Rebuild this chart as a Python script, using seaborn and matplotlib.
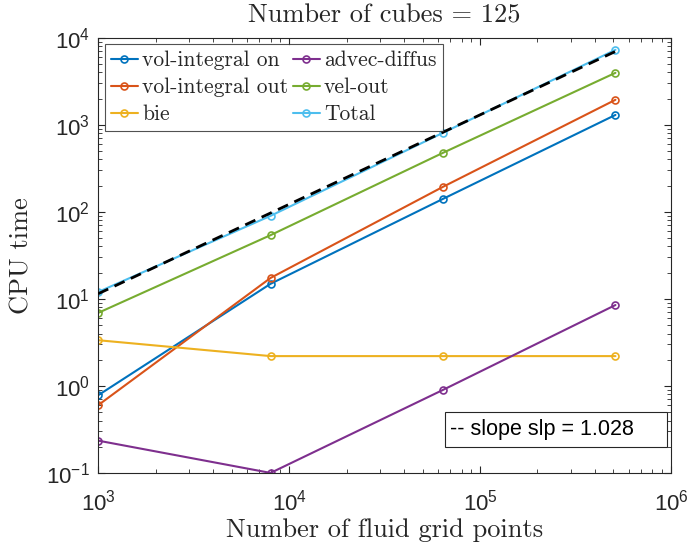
import numpy as np
import pandas as pd
import matplotlib
matplotlib.use("Agg")
import matplotlib.pyplot as plt
import seaborn as sns
from matplotlib.patches import Rectangle
from matplotlib.ticker import LogLocator, NullFormatter

# Fluid grid sizes (10^3, 20^3, 40^3, 80^3)
grid_points = [1000, 8000, 64000, 512000]

# CPU time per stage
vol_integral_on = [0.78, 14.9, 141, 1300]
vol_integral_out = [0.60, 17.4, 194, 1940]
bie = [3.35, 2.2, 2.2, 2.2]
advec_diffus = [0.235, 0.10, 0.90, 8.5]
vel_out = [6.9, 54, 477, 3960]
total = [12.0, 90, 810, 7280]

series_names = ["vol-integral on", "vol-integral out", "bie",
                "advec-diffus", "vel-out", "Total"]
series_values = [vol_integral_on, vol_integral_out, bie,
                 advec_diffus, vel_out, total]
colors = ["#0072BD", "#D95319", "#EDB120", "#7E2F8E", "#77AC30", "#4DBEEE"]

slope = 1.028
title_text = "Number of cubes = 125"
xlabel_text = "Number of fluid grid points"
ylabel_text = "CPU time"

sns.set_style("ticks")
plt.rcParams["mathtext.fontset"] = "custom"
plt.rcParams["mathtext.rm"] = "Liberation Sans"
plt.rcParams["mathtext.it"] = "Liberation Sans:italic"
plt.rcParams["font.family"] = ["Liberation Sans", "DejaVu Sans"]
plt.rcParams["xtick.direction"] = "in"
plt.rcParams["ytick.direction"] = "in"

df = pd.DataFrame({
    "N": np.tile(grid_points, len(series_names)),
    "t": np.concatenate(series_values),
    "series": np.repeat(series_names, len(grid_points)),
})

fig = plt.figure(figsize=(6.91, 5.48), dpi=100)
ax = fig.add_axes([0.142, 0.137, 0.829, 0.794])

sns.lineplot(data=df, x="N", y="t", hue="series", hue_order=series_names,
             palette=colors, marker="o", markersize=5, markerfacecolor="none",
             markeredgewidth=1.2, linewidth=1.5, ax=ax, legend=True)

# open circles in the line colour
for line in ax.lines:
    line.set_markeredgecolor(line.get_color())
    line.set_markerfacecolor("none")

# Reference power law through the total time with the reported slope
lx = np.log10(grid_points)
ly = np.log10(total)
intercept = ly.mean() - slope * lx.mean()
fit = 10 ** (intercept + slope * lx)
ax.plot(grid_points, fit, color="black", linestyle=(0, (4, 2.5)),
        linewidth=2, zorder=5)

ax.set_xscale("log")
ax.set_yscale("log")
ax.set_xlim(1e3, 1e6)
ax.set_ylim(1e-1, 1e4)

ax.xaxis.set_major_locator(LogLocator(base=10, numticks=10))
ax.yaxis.set_major_locator(LogLocator(base=10, numticks=10))
ax.xaxis.set_minor_locator(LogLocator(base=10, subs=np.arange(2, 10), numticks=20))
ax.yaxis.set_minor_locator(LogLocator(base=10, subs=np.arange(2, 10), numticks=20))
ax.xaxis.set_minor_formatter(NullFormatter())
ax.yaxis.set_minor_formatter(NullFormatter())

axis_color = "#262626"
for s in ax.spines.values():
    s.set_visible(True)
    s.set_color(axis_color)
    s.set_linewidth(0.8)
ax.tick_params(which="both", top=True, right=True, colors=axis_color,
               labelsize=16, labelcolor="#262626")
ax.tick_params(which="major", length=5, width=0.8)
ax.tick_params(which="minor", length=3, width=0.6)
ax.tick_params(axis="y", which="major", pad=6)
ax.tick_params(axis="x", which="major", pad=12)

ax.set_title(title_text, fontfamily="cmr10", fontsize=19, pad=11)
ax.set_xlabel(xlabel_text, fontfamily="cmr10", fontsize=19, labelpad=2)
ax.set_ylabel(ylabel_text, fontfamily="cmr10", fontsize=19, labelpad=9)

handles, labels = ax.get_legend_handles_labels()
for h in handles:
    h.set_markeredgecolor(h.get_color())
    h.set_markerfacecolor("none")
leg = ax.legend(handles, labels, ncol=2, loc="upper left",
                prop={"family": "cmr10", "size": 15.5},
                frameon=True, fancybox=False, edgecolor="#262626",
                handlelength=1.25, handletextpad=0.2, columnspacing=0.2,
                labelspacing=0.35, borderpad=0.3, borderaxespad=0.3)
leg.get_frame().set_linewidth(0.8)

# slope annotation box
ax.add_patch(Rectangle((0.606, 0.060), 0.387, 0.080, transform=ax.transAxes,
                       facecolor="white", edgecolor="#262626", linewidth=0.8,
                       zorder=6))
ax.text(0.614, 0.100, f"-- slope slp = {slope}", transform=ax.transAxes,
        ha="left", va="center", fontsize=15.5, color="black", zorder=7)

fig.savefig("out.png", dpi=100)
